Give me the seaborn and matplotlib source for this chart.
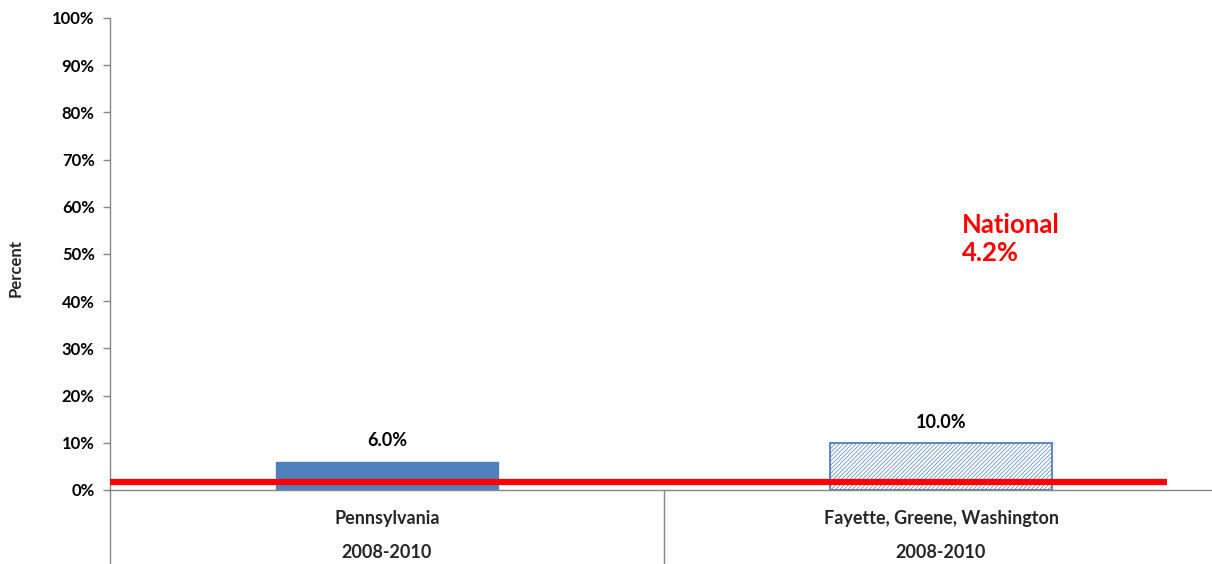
import matplotlib
matplotlib.use("Agg")
import matplotlib.pyplot as plt
import matplotlib.transforms as mtransforms
import seaborn as sns
import pandas as pd

# ---- data ----
categories = ["Pennsylvania", "Fayette, Greene, Washington"]
periods = ["2008-2010", "2008-2010"]
values = [6.0, 10.0]
value_labels = ["6.0%", "10.0%"]
national_label = "National\n4.2%"
national_line_level = 1.7  # level where the red reference line is drawn in the picture
yticks = [0, 10, 20, 30, 40, 50, 60, 70, 80, 90, 100]
ytick_labels = [f"{v}%" for v in yticks]

sns.set_theme(style="white")
plt.rcParams["font.family"] = ["Lato", "DejaVu Sans"]
blue = "#4F81BD"
plt.rcParams["hatch.color"] = blue
plt.rcParams["hatch.linewidth"] = 0.5

fig = plt.figure(figsize=(12.12, 5.64), dpi=100)
ax = fig.add_axes([110 / 1212, 74 / 564, 1108 / 1212, 472 / 564])

df = pd.DataFrame({"cat": categories, "val": values})
sns.barplot(data=df, x="cat", y="val", ax=ax, color=blue, width=0.40,
            saturation=1, errorbar=None)

patches = ax.patches
patches[0].set_facecolor(blue)
patches[0].set_edgecolor(blue)
patches[1].set_facecolor("white")
patches[1].set_edgecolor(blue)
patches[1].set_hatch("////////")
patches[1].set_linewidth(1.3)

ax.set_xlim(-0.5, 1.5)
ax.set_ylim(0, 100)
ax.set_yticks(yticks)
ax.set_yticklabels(ytick_labels, fontsize=12, fontweight="bold", color="black")
ax.tick_params(axis="y", length=5, width=1, color="#868686", pad=6, left=True)
ax.tick_params(axis="x", length=0, bottom=False)
ax.set_xticks([])
ax.set_xlabel("")
ax.set_ylabel("Percent", fontsize=12, fontweight="bold")
ax.yaxis.set_label_coords(-0.0776, 0.47)

for s in ["top", "right"]:
    ax.spines[s].set_visible(False)
for s in ["left", "bottom"]:
    ax.spines[s].set_color("#868686")
    ax.spines[s].set_linewidth(1)

# value labels
for i, (v, lab) in enumerate(zip(values, value_labels)):
    ax.text(i, v + 2.6, lab, ha="center", va="bottom", fontsize=13,
            fontweight="bold", color="black")

# category and period labels under axis
trans = mtransforms.blended_transform_factory(ax.transData, ax.transAxes)
for i, (c, p) in enumerate(zip(categories, periods)):
    ax.text(i, -0.060, c, ha="center", va="center", fontsize=13,
            fontweight="bold", transform=trans)
    ax.text(i, -0.132, p, ha="center", va="center", fontsize=13,
            fontweight="bold", transform=trans)

# category separators
for xs in [-0.5, 0.5, 1.5]:
    ax.plot([xs, xs], [0, -0.16], transform=trans, color="#868686",
            lw=1, clip_on=False)

# national reference line
ax.plot([-0.5, 1.408], [national_line_level, national_line_level],
        color="#FF0000", lw=4.5, solid_capstyle="butt", zorder=5,
        clip_on=False)
ax.text(0.769, 0.532, national_label, transform=ax.transAxes, color="#FF0000",
        fontsize=18.5, fontweight="bold", ha="left", va="center",
        linespacing=1.2)

fig.savefig("out.png", dpi=100)
